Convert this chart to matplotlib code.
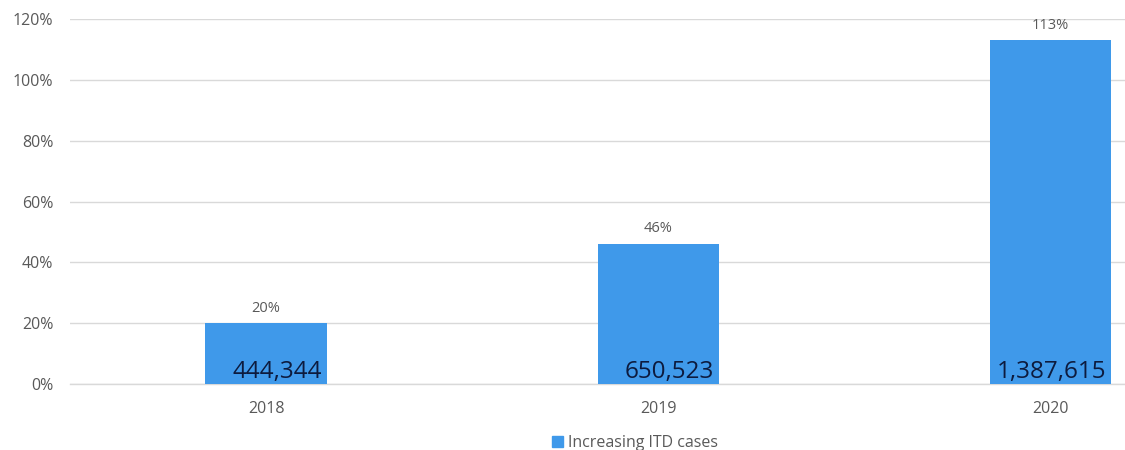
import matplotlib
matplotlib.use("Agg")
import matplotlib.pyplot as plt
from matplotlib.patches import Patch

plt.rcParams['font.family'] = ['Open Sans', 'DejaVu Sans']

years = ["2018", "2019", "2020"]
growth_pct = [20, 46, 113]
pct_labels = ["20%", "46%", "113%"]
case_counts = ["444,344", "650,523", "1,387,615"]
yticks = [0, 20, 40, 60, 80, 100, 120]

bar_color = "#3f99ea"
grid_color = "#d9d9d9"
text_gray = "#595959"

fig = plt.figure(figsize=(11.25, 4.5), dpi=100)
ax = fig.add_axes([70 / 1125, 1 - 384 / 450, (1125 - 70) / 1125, 365 / 450])

x = list(range(len(years)))
bw = 0.31
bars = ax.bar(x, growth_pct, width=bw, color=bar_color, zorder=2)

for xi, v, pl, cc in zip(x, growth_pct, pct_labels, case_counts):
    ax.text(xi, v + 2.5, pl, ha="center", va="bottom", fontsize=10.5, color=text_gray)
    ax.text(xi + bw / 2 - 0.012, 0.0, cc, ha="right", va="bottom", fontsize=17.5,
            color="#0d1b3e", zorder=3)

ax.set_xlim(-0.5, 2.19)
ax.set_ylim(0, 120)
ax.set_yticks(yticks)
ax.set_yticklabels([f"{t}%" for t in yticks])
ax.set_xticks(x)
ax.set_xticklabels(years)
ax.yaxis.grid(True, color=grid_color, linewidth=1, zorder=0)
ax.axhline(0, color=grid_color, linewidth=1, zorder=1, clip_on=False)
ax.set_axisbelow(True)
for s in ax.spines.values():
    s.set_visible(False)
ax.tick_params(axis="both", length=0, labelsize=11.5, colors=text_gray)
ax.tick_params(axis="y", pad=12)
ax.tick_params(axis="x", pad=12)

fig.legend(handles=[Patch(color=bar_color, label="Increasing ITD cases")],
           loc="center", bbox_to_anchor=(635 / 1125, 1 - 443 / 450), frameon=False,
           fontsize=11.5, handlelength=0.7, handleheight=0.7, handletextpad=0.3,
           labelcolor=text_gray)

fig.savefig("out.png", dpi=100)
